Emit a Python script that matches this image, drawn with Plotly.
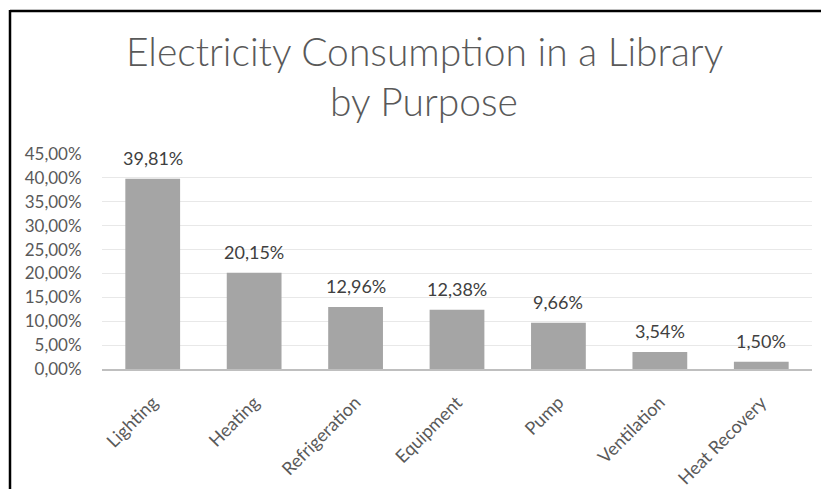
import plotly.graph_objects as go

categories = ["Lighting", "Heating", "Refrigeration", "Equipment", "Pump", "Ventilation", "Heat Recovery"]
shares = [0.3981, 0.2015, 0.1296, 0.1238, 0.0966, 0.0354, 0.0150]
y_ticks = [i * 0.05 for i in range(10)]
title_lines = ["Electricity Consumption in a Library", "by Purpose"]

W, H = 821, 489
L, R, T, B = 102, 9, 154, 120
pw, ph = W - L - R, H - T - B

def px_x(px):
    return (px - L) / pw

def px_y(py):
    return (H - B - py) / ph

fig = go.Figure(go.Bar(
    x=categories, y=shares,
    marker=dict(color="#a5a5a5", line=dict(width=0)),
    hoverinfo="skip",
))

for c, v in zip(categories, shares):
    fig.add_annotation(
        x=c, y=v, xref="x", yref="y", text=f"{v*100:.2f}%".replace(".", ","),
        showarrow=False, yanchor="bottom", yshift=8,
        font=dict(family="Lato", size=18, color="#404040"),
    )

# two-line chart title
for line, ymid in zip(title_lines, [51, 101]):
    fig.add_annotation(
        x=px_x(424), xref="paper", y=px_y(ymid), yref="paper",
        text=line, showarrow=False, xanchor="center", yanchor="middle",
        font=dict(family="Lato", size=39, color="#595959", weight=300),
    )

# chart border (top and left edges visible in the reference)
fig.add_shape(type="line", xref="paper", yref="paper",
              x0=px_x(10), x1=px_x(W + 5), y0=px_y(11), y1=px_y(11),
              line=dict(color="black", width=2.5))
fig.add_shape(type="line", xref="paper", yref="paper",
              x0=px_x(10), x1=px_x(10), y0=px_y(10), y1=px_y(H + 5),
              line=dict(color="black", width=2.5))

fig.update_layout(
    width=W, height=H,
    margin=dict(l=L, r=R, t=T, b=B),
    paper_bgcolor="white", plot_bgcolor="white",
    separators=",.",
    showlegend=False,
    bargap=0.46,
    xaxis=dict(
        showgrid=False, showline=True, linecolor="#bfbfbf", linewidth=2,
        tickangle=-45, ticks="outside", ticklen=14, tickcolor="rgba(0,0,0,0)",
        tickfont=dict(family="Lato", size=18, color="#595959"),
        automargin=False,
    ),
    yaxis=dict(
        range=[0, 0.45], tickvals=y_ticks, tickformat=".2%",
        showgrid=True, gridcolor="#e8e8e8", gridwidth=1,
        zeroline=False, showline=False,
        tickfont=dict(family="Lato", size=17, color="#595959"),
        ticks="outside", ticklen=16, tickcolor="rgba(0,0,0,0)",
        automargin=False,
    ),
)

fig.write_html("out.html")
